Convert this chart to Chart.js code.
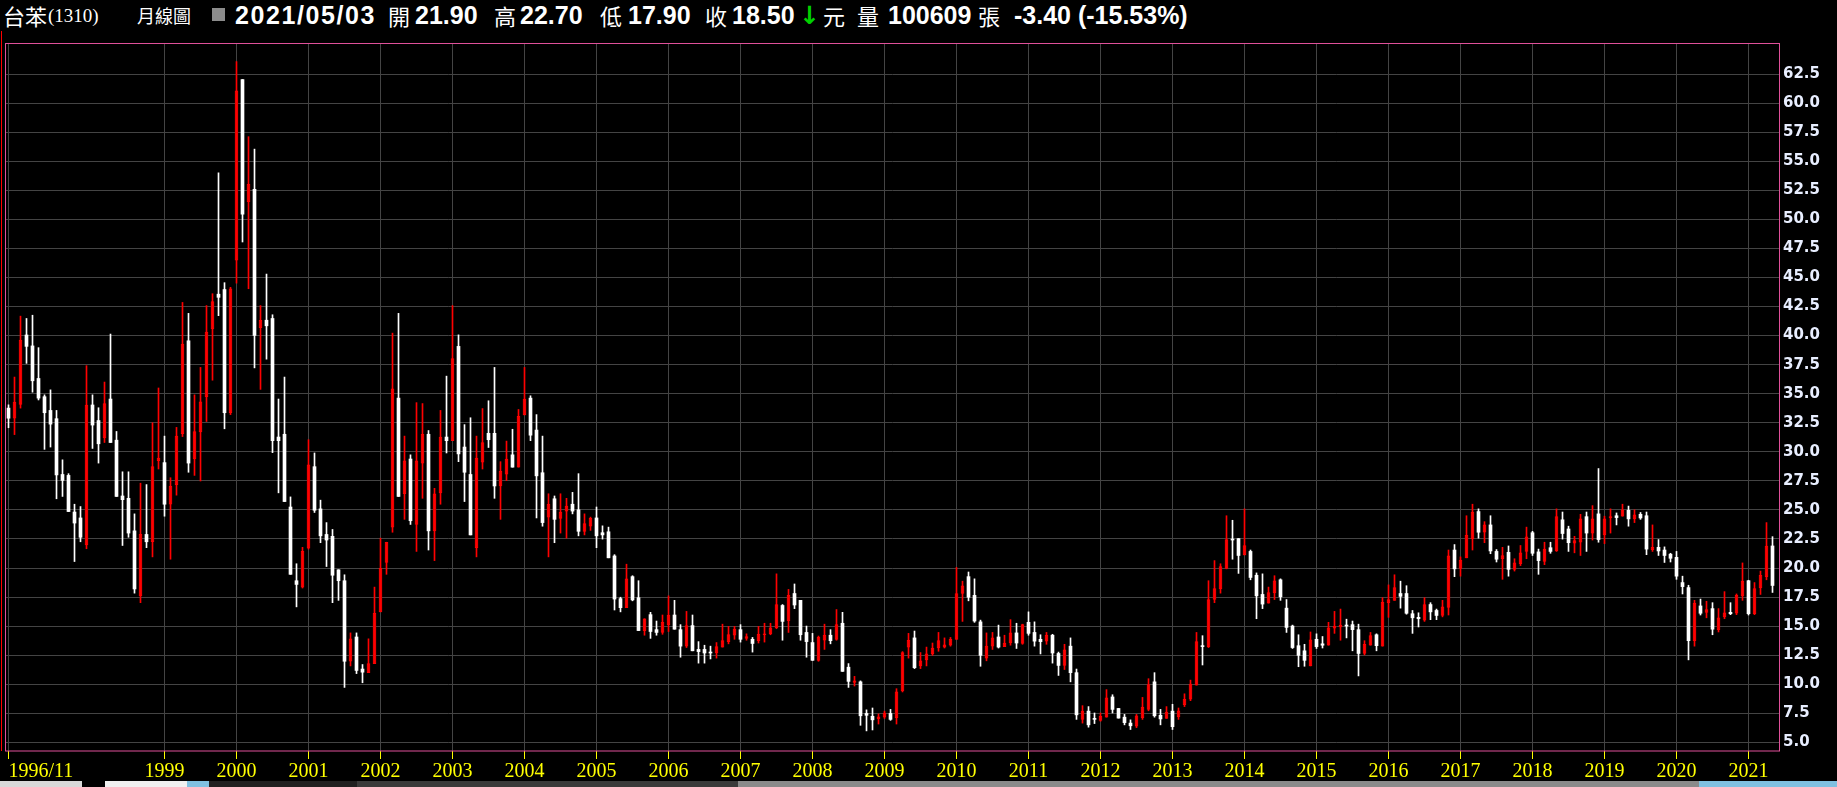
<!DOCTYPE html>
<html>
<head>
<meta charset="utf-8">
<script src="https://cdn.jsdelivr.net/npm/chart.js@4.4.1/dist/chart.umd.min.js"></script>
<style>
  html, body { margin: 0; padding: 0; background: #000; }
  body { width: 1837px; height: 787px; position: relative; overflow: hidden; }
  #header { position: absolute; left: 0; top: 0; width: 1837px; height: 31px; color: #fff; }
  #header span { position: absolute; top: 0; height: 31px; line-height: 31px; white-space: nowrap; }
  .num { font-family: "Liberation Sans", Arial, sans-serif; font-weight: bold; font-size: 25px; }
  .cjk { font-family: "Noto Sans CJK TC", sans-serif; font-size: 22px; }
  #icon { position: absolute; left: 212px; top: 8px; width: 13px; height: 13px; background: #8c8c8c; }
  #chartBox { position: absolute; left: 0; top: 31px; }
  .strip { position: absolute; top: 781px; height: 6px; }
</style>
</head>
<body>
<div id="header">
  <span class="cjk" style="left:3px">台苯</span>
  <span style="left:48px;font-family:'Liberation Serif',serif;font-size:19px">(1310)</span>
  <span class="cjk" style="left:137px;font-size:18px">月線圖</span>
  <div id="icon"></div>
  <span class="num" style="left:235px;letter-spacing:1.6px">2021/05/03</span>
  <span class="cjk" style="left:388px">開</span>
  <span class="num" style="left:415px">21.90</span>
  <span class="cjk" style="left:494px">高</span>
  <span class="num" style="left:520px">22.70</span>
  <span class="cjk" style="left:600px">低</span>
  <span class="num" style="left:628px">17.90</span>
  <span class="cjk" style="left:705px">收</span>
  <span class="num" style="left:732px">18.50</span>
  <span class="num" style="left:799px;color:#00d000;font-family:'DejaVu Sans'">↓</span>
  <span class="cjk" style="left:823px">元</span>
  <span class="cjk" style="left:857px">量</span>
  <span class="num" style="left:888px">100609</span>
  <span class="cjk" style="left:978px">張</span>
  <span class="num" style="left:1014px">-3.40 (-15.53%)</span>
</div>
<div id="chartBox"><canvas id="kCanvas" width="1837" height="750"></canvas></div>
<div class="strip" style="left:0;width:82px;background:#d8d8d8"></div>
<div class="strip" style="left:105px;width:82px;background:#f0f0f0"></div>
<div class="strip" style="left:187px;width:22px;background:#7fc0e0"></div>
<div class="strip" style="left:209px;width:148px;background:#202020"></div>
<div class="strip" style="left:357px;width:381px;background:#3a3a3a"></div>
<div class="strip" style="left:738px;width:961px;background:#8a8a8a"></div>
<div class="strip" style="left:1699px;width:138px;background:#7fc0e0"></div>
<script>
// monthly candles, 1996/11 .. 2021/05
const firstMonth = "1996/11";

const opens = [
  33.76, 32.89, 34.08, 40.05, 39.11, 36.31, 34.74, 33.56, 32.85, 28.05, 27.97, 24.82, 24.31, 21.98, 34.03, 32.69, 31.19, 34.54, 31.00, 26.20,
  26.00, 23.20, 17.61, 22.89, 22.26, 29.23, 29.07, 25.49, 27.18, 31.55, 39.55, 29.38, 31.71, 34.74, 40.57, 43.56, 43.96, 33.36, 46.48, 62.03,
  51.51, 52.58, 40.69, 41.32, 41.47, 31.27, 31.51, 25.25, 18.91, 18.36, 21.70, 28.72, 25.09, 22.89, 22.73, 19.85, 18.91, 11.98, 14.07, 11.31,
  11.00, 11.78, 16.23, 20.48, 23.52, 34.62, 26.39, 29.38, 23.75, 29.03, 31.51, 23.20, 26.47, 31.27, 30.96, 39.07, 30.41, 28.05, 21.75, 29.11,
  31.59, 31.59, 27.06, 28.08, 29.74, 28.68, 33.17, 34.62, 31.87, 28.20, 24.38, 25.96, 24.27, 24.90, 25.49, 25.01, 23.16, 23.60, 24.31, 23.04,
  23.12, 21.04, 17.37, 16.59, 19.26, 17.45, 14.62, 15.99, 14.70, 14.46, 15.13, 15.96, 14.70, 13.28, 15.05, 13.00, 13.00, 12.77, 12.69, 13.20,
  13.67, 14.22, 14.70, 13.95, 13.87, 13.75, 14.26, 14.34, 14.86, 16.78, 15.48, 17.81, 17.22, 14.46, 13.59, 12.06, 13.79, 14.22, 13.87, 15.25,
  11.47, 10.17, 10.21, 7.49, 7.25, 7.02, 7.17, 7.49, 7.13, 9.42, 13.20, 13.99, 11.58, 12.10, 12.61, 13.12, 13.20, 13.36, 13.87, 17.81,
  19.26, 17.65, 15.37, 12.25, 13.28, 14.07, 13.24, 13.55, 14.42, 13.51, 15.33, 14.46, 13.87, 13.71, 14.22, 12.65, 11.62, 13.28, 11.00, 6.98,
  7.69, 7.06, 6.90, 7.17, 8.91, 7.92, 7.17, 6.66, 6.39, 7.13, 7.84, 10.21, 7.33, 7.06, 7.69, 7.21, 8.24, 8.71, 9.93, 13.32,
  13.24, 17.29, 18.20, 19.97, 22.49, 22.53, 21.12, 21.43, 19.38, 17.73, 16.98, 17.85, 18.99, 16.55, 15.01, 13.32, 12.88, 11.58, 13.87, 13.48,
  13.36, 14.82, 14.93, 15.09, 15.13, 14.70, 12.65, 13.36, 14.26, 13.28, 17.02, 17.22, 17.81, 17.81, 16.07, 15.76, 15.52, 16.86, 16.35, 15.92,
  16.62, 21.55, 19.97, 20.88, 22.53, 24.86, 23.08, 23.71, 21.43, 20.80, 21.35, 19.89, 20.37, 21.43, 23.04, 21.39, 20.56, 21.75, 21.47, 24.15,
  23.36, 22.14, 22.22, 24.42, 23.01, 24.66, 22.85, 24.31, 24.50, 24.46, 24.97, 24.23, 24.62, 24.50, 21.59, 21.78, 21.55, 21.19, 20.92, 18.75,
  18.32, 13.75, 16.74, 16.19, 16.51, 14.70, 15.80, 16.19, 16.11, 17.61, 18.91, 16.07, 18.28, 19.26, 21.90
];
const highs = [
  34.04, 36.43, 41.67, 41.47, 41.75, 38.96, 34.90, 35.33, 33.56, 29.31, 28.12, 25.49, 25.29, 37.41, 34.90, 33.79, 36.00, 40.13, 31.75, 28.28,
  28.28, 24.66, 27.30, 27.18, 32.50, 35.49, 31.35, 27.77, 32.10, 42.85, 41.91, 34.90, 37.26, 42.58, 43.60, 54.00, 44.55, 44.15, 63.57, 62.03,
  57.11, 56.04, 42.58, 45.29, 41.79, 34.54, 36.43, 26.12, 20.37, 21.78, 31.04, 29.90, 25.84, 23.91, 23.32, 19.85, 19.42, 14.42, 14.42, 11.70,
  13.91, 18.36, 22.57, 22.22, 40.21, 41.91, 31.35, 29.74, 34.23, 34.15, 31.83, 26.86, 33.56, 36.51, 42.58, 40.06, 32.34, 32.93, 31.35, 33.72,
  34.39, 37.26, 29.15, 30.92, 31.94, 33.64, 37.26, 34.82, 33.20, 31.35, 26.39, 26.20, 26.39, 26.00, 26.51, 28.12, 24.66, 24.38, 25.25, 23.63,
  23.52, 21.15, 17.49, 20.33, 19.34, 18.91, 15.64, 16.19, 15.44, 15.96, 17.61, 17.22, 15.13, 16.27, 15.96, 13.67, 13.36, 13.28, 13.59, 15.17,
  14.98, 14.98, 15.13, 14.34, 14.03, 14.98, 15.25, 15.25, 19.50, 16.86, 18.16, 18.63, 17.22, 15.01, 14.38, 14.15, 15.17, 14.70, 16.43, 16.19,
  11.78, 10.68, 10.29, 7.80, 7.96, 7.45, 7.69, 7.84, 9.62, 12.81, 14.38, 14.58, 12.73, 13.20, 13.55, 14.46, 13.99, 14.03, 20.05, 18.87,
  19.66, 19.07, 15.52, 14.42, 14.46, 15.09, 14.22, 15.56, 15.25, 15.17, 16.23, 15.37, 14.26, 14.46, 14.30, 12.77, 13.44, 13.99, 11.31, 8.16,
  8.08, 7.53, 7.53, 9.54, 9.10, 7.92, 7.41, 6.94, 7.41, 8.87, 10.48, 11.00, 7.84, 8.08, 8.28, 7.96, 9.18, 10.36, 14.46, 14.18,
  18.91, 20.64, 20.37, 24.50, 24.11, 22.53, 25.09, 21.55, 19.58, 19.50, 18.36, 19.34, 19.07, 17.29, 15.09, 14.26, 13.44, 14.50, 14.34, 14.11,
  15.33, 16.27, 16.47, 15.60, 15.44, 15.17, 13.75, 14.46, 14.34, 17.45, 18.55, 19.42, 18.87, 18.48, 16.35, 16.15, 17.45, 17.02, 16.47, 17.22,
  21.55, 22.02, 20.96, 24.50, 25.49, 25.09, 23.99, 24.50, 21.59, 21.78, 21.90, 20.80, 21.94, 23.52, 23.16, 21.63, 22.22, 22.22, 25.09, 24.82,
  23.60, 22.73, 24.62, 24.82, 25.37, 28.56, 24.46, 25.09, 24.74, 25.49, 25.33, 25.01, 24.78, 24.82, 23.71, 22.45, 21.82, 21.27, 21.43, 19.30,
  18.52, 17.22, 17.33, 17.14, 17.02, 16.51, 17.97, 17.02, 17.77, 20.44, 18.95, 18.75, 19.74, 23.91, 22.70
];
const lows = [
  32.07, 31.48, 33.76, 37.61, 35.13, 34.46, 30.21, 30.41, 25.96, 26.16, 24.86, 20.56, 22.26, 21.66, 30.29, 29.03, 30.80, 30.80, 26.16, 21.94,
  22.65, 17.84, 17.02, 21.75, 20.96, 28.52, 24.46, 20.76, 26.27, 31.31, 28.24, 27.97, 27.49, 32.61, 36.16, 41.71, 31.98, 33.20, 44.51, 48.05,
  44.03, 37.22, 35.37, 37.97, 29.93, 26.47, 25.72, 19.46, 16.66, 18.28, 21.63, 24.78, 22.18, 20.13, 17.02, 17.22, 9.73, 11.58, 10.92, 10.13,
  11.00, 11.78, 16.23, 19.46, 23.08, 26.16, 24.19, 23.75, 21.43, 26.00, 21.55, 20.64, 25.49, 29.90, 30.96, 29.15, 25.72, 22.85, 20.96, 28.52,
  30.37, 26.00, 24.19, 27.53, 28.68, 28.68, 33.17, 30.96, 24.31, 23.60, 20.96, 22.18, 23.01, 22.57, 24.66, 22.77, 22.85, 23.24, 21.75, 22.49,
  20.88, 16.39, 16.23, 16.59, 17.18, 14.62, 14.22, 13.95, 14.22, 14.30, 14.54, 14.74, 12.33, 13.16, 12.88, 11.82, 11.82, 12.18, 12.25, 13.20,
  13.48, 13.87, 13.63, 13.79, 12.77, 13.55, 13.63, 14.26, 14.78, 13.79, 14.46, 16.51, 13.79, 12.33, 12.06, 11.98, 13.00, 13.48, 13.79, 11.11,
  9.73, 9.85, 6.47, 5.99, 6.07, 6.58, 7.06, 6.90, 6.58, 9.34, 12.25, 11.35, 11.35, 11.58, 12.49, 12.84, 13.12, 13.28, 13.87, 15.41,
  17.18, 15.33, 11.55, 12.02, 13.00, 13.12, 13.24, 13.36, 13.08, 13.44, 14.22, 13.28, 12.61, 13.44, 11.82, 10.76, 11.27, 10.21, 6.98, 6.66,
  6.31, 6.62, 6.82, 7.17, 7.53, 7.09, 6.51, 6.11, 6.27, 6.98, 7.72, 7.17, 6.51, 7.06, 6.11, 6.98, 8.08, 8.59, 9.93, 11.66,
  13.16, 17.02, 17.84, 19.93, 20.76, 19.54, 21.12, 18.99, 15.64, 16.51, 16.98, 17.29, 17.22, 14.46, 13.08, 11.51, 11.55, 11.58, 13.08, 13.12,
  13.36, 14.38, 13.79, 13.99, 12.88, 10.72, 12.53, 13.36, 12.88, 13.28, 15.76, 17.22, 16.55, 16.03, 14.38, 14.93, 15.41, 15.56, 15.56, 15.80,
  15.96, 19.26, 19.30, 20.88, 21.55, 22.57, 22.18, 21.23, 20.52, 19.03, 19.30, 19.74, 20.21, 20.80, 21.08, 19.46, 20.29, 21.27, 21.43, 22.49,
  21.43, 21.31, 21.08, 21.43, 22.41, 22.22, 22.10, 23.01, 23.71, 24.46, 23.60, 23.91, 24.19, 21.15, 21.43, 21.08, 20.48, 20.52, 19.03, 17.77,
  12.10, 13.28, 15.96, 15.72, 14.26, 14.50, 15.64, 15.99, 15.99, 17.22, 15.96, 15.99, 17.73, 18.99, 17.90
];
const closes = [
  32.89, 34.27, 39.62, 39.07, 36.11, 34.62, 33.36, 32.38, 28.01, 27.54, 24.86, 23.87, 22.65, 34.03, 32.30, 30.69, 34.15, 30.80, 26.16, 25.88,
  23.01, 18.20, 22.89, 22.26, 28.72, 29.46, 25.49, 27.02, 31.35, 39.27, 29.03, 31.75, 34.31, 40.29, 42.93, 43.29, 33.36, 44.03, 61.05, 50.45,
  53.01, 40.02, 41.32, 40.84, 30.96, 30.96, 25.72, 19.46, 18.59, 21.43, 28.87, 24.97, 22.77, 22.41, 19.38, 18.91, 11.98, 13.91, 11.19, 11.04,
  11.78, 16.11, 19.97, 22.22, 35.41, 26.16, 29.23, 24.07, 29.23, 31.51, 23.20, 26.39, 31.27, 30.96, 38.01, 29.82, 28.24, 22.85, 29.46, 30.80,
  31.04, 27.06, 28.32, 29.38, 28.68, 33.05, 34.54, 31.43, 27.93, 23.91, 25.49, 24.19, 24.82, 25.33, 24.90, 23.16, 23.83, 24.27, 22.77, 22.85,
  20.88, 17.33, 16.59, 19.07, 17.26, 14.62, 15.64, 14.54, 14.46, 15.33, 15.96, 14.74, 13.28, 15.05, 12.88, 12.81, 12.69, 12.69, 13.24, 13.75,
  14.27, 14.74, 13.87, 14.11, 13.51, 14.30, 14.34, 14.86, 16.86, 15.41, 17.65, 16.82, 14.26, 13.67, 12.06, 14.07, 14.22, 13.75, 15.13, 11.11,
  10.25, 10.29, 7.29, 7.33, 6.94, 7.21, 7.53, 6.98, 9.34, 12.73, 13.79, 11.43, 12.02, 12.61, 13.12, 13.75, 13.40, 13.87, 17.81, 18.48,
  17.49, 15.44, 12.49, 13.28, 13.99, 13.20, 13.55, 14.42, 13.55, 15.13, 14.38, 13.71, 13.67, 14.22, 12.69, 11.62, 12.96, 11.00, 7.37, 7.69,
  6.51, 6.98, 7.25, 8.83, 7.84, 7.09, 6.70, 6.43, 7.29, 8.04, 9.97, 7.29, 7.02, 7.61, 6.35, 7.72, 8.71, 10.01, 13.67, 13.24,
  17.29, 18.24, 20.13, 22.45, 22.41, 21.08, 21.94, 19.19, 17.61, 16.90, 17.89, 18.91, 17.53, 14.89, 13.16, 12.49, 12.06, 13.83, 13.24, 13.36,
  14.86, 14.98, 15.09, 15.01, 14.70, 12.65, 13.44, 14.18, 13.32, 17.06, 17.29, 18.32, 17.57, 16.11, 15.72, 15.64, 16.86, 16.23, 15.92, 16.67,
  21.04, 19.93, 20.68, 22.81, 24.82, 23.08, 23.71, 21.47, 20.76, 21.08, 19.89, 20.44, 21.31, 22.69, 21.27, 20.64, 21.63, 21.43, 24.42, 22.97,
  22.18, 22.37, 24.23, 23.01, 24.23, 22.45, 24.23, 24.42, 24.34, 25.01, 24.23, 24.58, 24.31, 21.63, 21.78, 21.47, 21.08, 20.84, 19.30, 18.40,
  13.75, 16.98, 16.11, 16.43, 14.74, 15.72, 16.15, 16.07, 17.65, 18.87, 16.07, 18.24, 19.38, 21.90, 18.50
];

const xTickLabels = ["1996/11", "1999", "2000", "2001", "2002", "2003", "2004", "2005", "2006", "2007", "2008",
  "2009", "2010", "2011", "2012", "2013", "2014", "2015", "2016", "2017", "2018", "2019", "2020", "2021"];
const yTickValues = [5.0, 7.5, 10.0, 12.5, 15.0, 17.5, 20.0, 22.5, 25.0, 27.5, 30.0, 32.5, 35.0, 37.5,
  40.0, 42.5, 45.0, 47.5, 50.0, 52.5, 55.0, 57.5, 60.0, 62.5];

function monthIndex(label) {
  const [y0, m0] = firstMonth.split("/").map(Number);
  const p = label.split("/").map(Number);
  return (p[0] - y0) * 12 + ((p[1] || 1) - m0);
}
const xTickIndex = xTickLabels.map(monthIndex);

const RED = "#ff0000";
const WHITE = "#ffffff";
const GRID = "#444444";
const X_MIN = -0.5833;
const X_MAX = 295.25;

const isUp = closes.map((c, i) => c >= opens[i]);
const wicks = lows.map((l, i) => ({ x: i, y: [l, highs[i]] }));
const bodies = opens.map((o, i) => ({ x: i, y: [o, closes[i]] }));

// pink frame round the plot + the red line at the far left
const frame = {
  id: "frame",
  afterDraw(chart) {
    const { ctx, chartArea: a } = chart;
    ctx.save();
    ctx.lineWidth = 1;
    ctx.strokeStyle = "#e0509a";
    ctx.strokeRect(a.left + 0.5, a.top + 0.5, a.right - a.left - 1, a.bottom - a.top - 0.5);
    ctx.strokeStyle = "#ff0000";
    ctx.beginPath();
    ctx.moveTo(1.5, 0);
    ctx.lineTo(1.5, a.bottom);
    ctx.stroke();
    ctx.restore();
  }
};

new Chart(document.getElementById("kCanvas"), {
  type: "bar",
  data: {
    datasets: [
      {
        data: wicks,
        backgroundColor: isUp.map(u => (u ? RED : WHITE)),
        borderWidth: 0,
        barThickness: 1,
        grouped: false
      },
      {
        data: bodies,
        backgroundColor: isUp.map(u => (u ? "#a00000" : WHITE)),
        borderColor: isUp.map(u => (u ? RED : WHITE)),
        borderWidth: isUp.map(u => (u ? 1 : 0)),
        borderSkipped: false,
        barThickness: 3,
        minBarLength: 1,
        grouped: false
      }
    ]
  },
  options: {
    responsive: false,
    animation: false,
    events: [],
    layout: { padding: { left: 5, top: 0, right: 0, bottom: 0 } },
    plugins: {
      legend: { display: false },
      tooltip: { enabled: false }
    },
    scales: {
      x: {
        type: "linear",
        min: X_MIN,
        max: X_MAX,
        offset: false,
        afterBuildTicks: scale => {
          scale.ticks = xTickIndex.map(v => ({ value: v })).concat([{ value: X_MAX }]);
        },
        afterFit: scale => {
          scale.height = 30;
        },
        grid: {
          offset: false,
          color: c => (c.index < xTickIndex.length ? GRID : "transparent"),
          tickColor: c => (c.index < xTickIndex.length ? "#ffff00" : "transparent"),
          tickLength: 8
        },
        border: { display: false },
        ticks: {
          autoSkip: false,
          maxRotation: 0,
          align: "inner",
          padding: 1,
          color: "#ffff00",
          font: { family: "Liberation Serif", size: 20 },
          callback: (v, i) => (i < xTickLabels.length ? xTickLabels[i] : "")
        }
      },
      y: {
        position: "right",
        min: 4.26,
        max: 65.17,
        afterBuildTicks: scale => {
          scale.ticks = yTickValues.map(v => ({ value: v }));
        },
        afterFit: scale => {
          scale.width = 57;
        },
        grid: { color: GRID, drawTicks: false },
        border: { display: false },
        ticks: {
          padding: 3,
          color: "#e8eeff",
          font: { family: "DejaVu Sans", weight: "bold", size: 15 },
          callback: v => v.toFixed(1)
        }
      }
    }
  },
  plugins: [frame]
});
</script>
</body>
</html>
